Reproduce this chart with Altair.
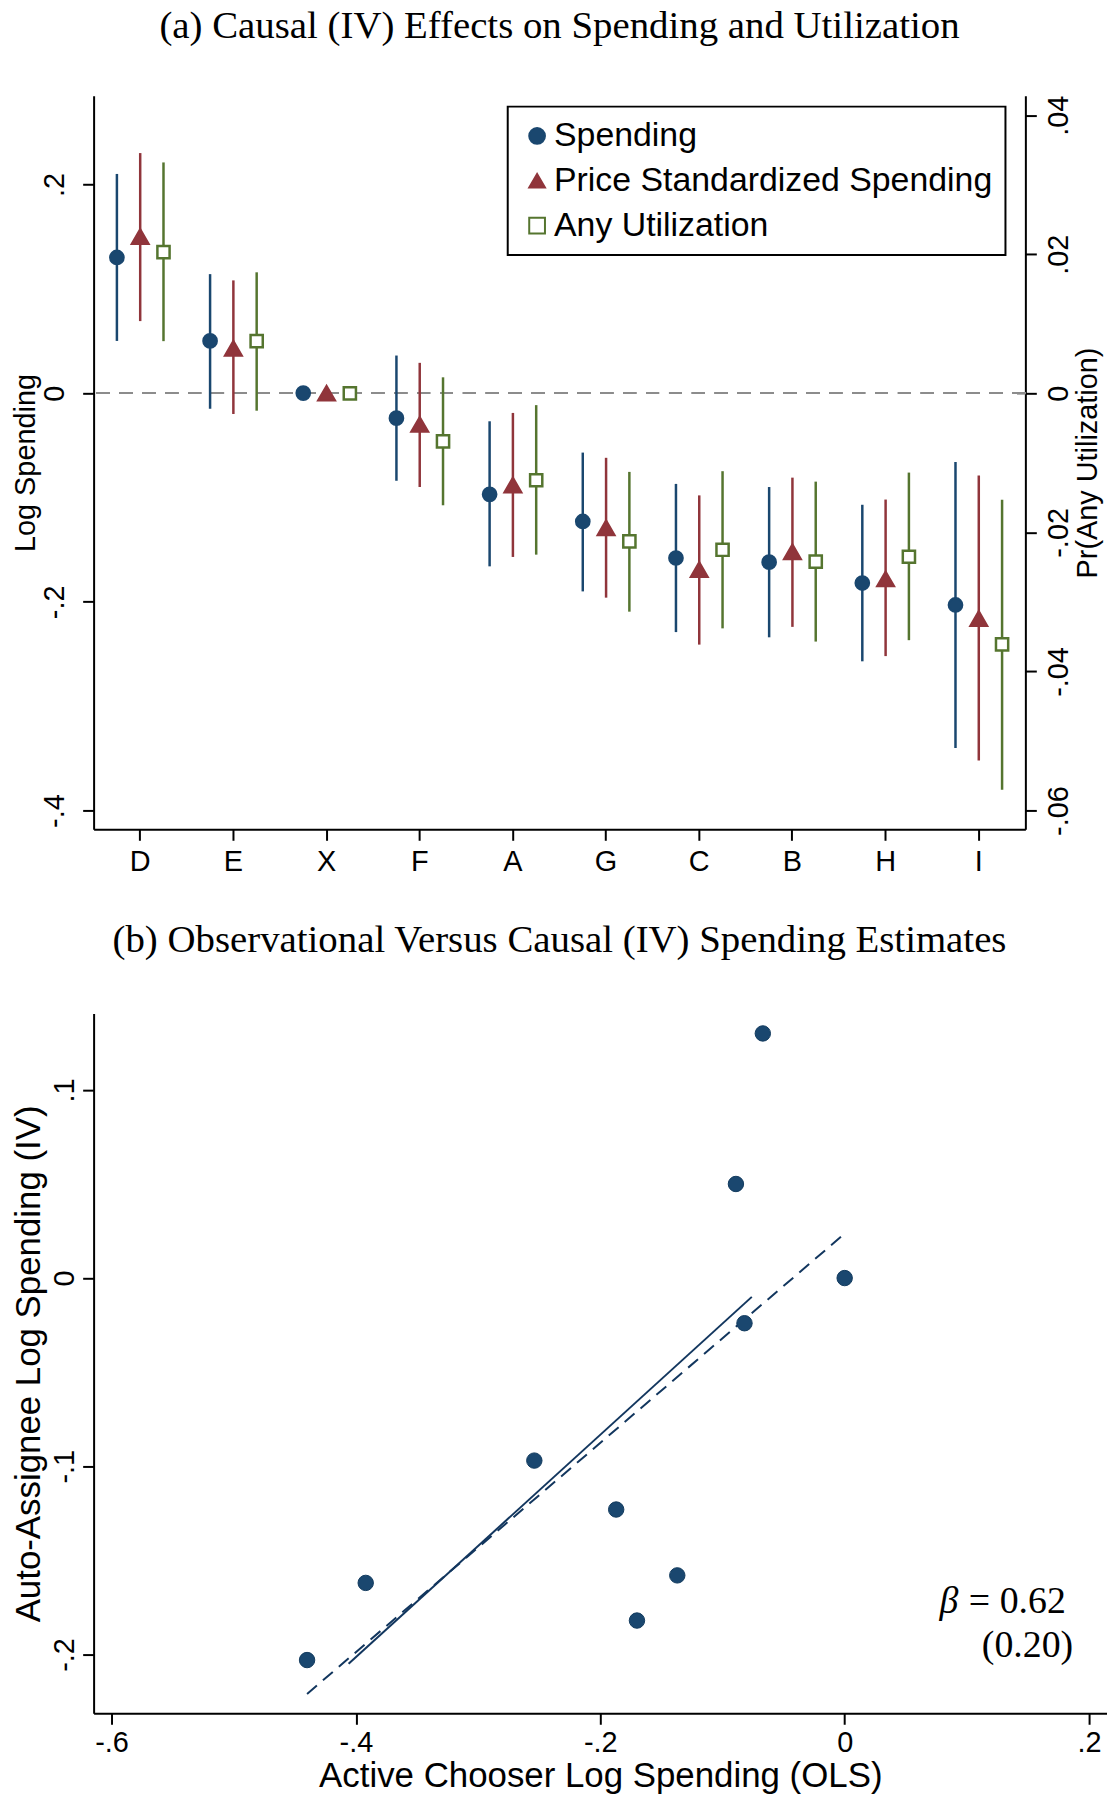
import altair as alt
import pandas as pd

# ---------------- data ----------------
cats = ["D", "E", "X", "F", "A", "G", "C", "B", "H", "I"]
series = ["Spending", "Price Standardized Spending", "Any Utilization"]

spend_est = [0.130, 0.050, 0.0, -0.024, -0.097, -0.123, -0.158, -0.162, -0.182, -0.203]
spend_lo = [0.050, -0.015, None, -0.084, -0.166, -0.190, -0.229, -0.234, -0.257, -0.340]
spend_hi = [0.210, 0.114, None, 0.036, -0.027, -0.057, -0.087, -0.090, -0.107, -0.066]

price_est = [0.150, 0.043, 0.0, -0.030, -0.088, -0.129, -0.169, -0.152, -0.178, -0.216]
price_lo = [0.069, -0.020, None, -0.090, -0.157, -0.196, -0.241, -0.224, -0.252, -0.352]
price_hi = [0.230, 0.108, None, 0.029, -0.019, -0.062, -0.098, -0.081, -0.102, -0.079]

util_est = [0.0203, 0.0075, 0.0, -0.0069, -0.0125, -0.0213, -0.0225, -0.0242, -0.0235, -0.0361]
util_lo = [0.0075, -0.0025, None, -0.0161, -0.0232, -0.0314, -0.0338, -0.0357, -0.0355, -0.0570]
util_hi = [0.0332, 0.0174, None, 0.0023, -0.0017, -0.0113, -0.0112, -0.0127, -0.0114, -0.0153]

# panel (b): observational (OLS) vs causal (IV)
ols_x = [-0.067, -0.089, 0.0, -0.082, -0.254, -0.187, -0.137, -0.392, -0.170, -0.440]
iv_y = spend_est

solid_x = [-0.406, -0.076]
solid_y = [-0.205, -0.010]
dash_x = [-0.440, -0.002]
dash_y = [-0.221, 0.0225]

note_text = ["= 0.62", "(0.20)"]
note_x = [0.181, 0.187]
note_y = [-0.172, -0.1955]
beta_text = ["\u03b2"]

left_ticks = [-0.4, -0.2, 0, 0.2]
right_ticks = [-0.06, -0.04, -0.02, 0, 0.02, 0.04]
b_yticks = [-0.2, -0.1, 0, 0.1]
b_xticks = [-0.6, -0.4, -0.2, 0, 0.2]

# ---------------- styles ----------------
NAVY = "#1a476f"
MAROON = "#90353b"
GREEN = "#55752f"
SANS = "Liberation Sans"
SERIF = "Liberation Serif"
LBL = "datum.value == 0 ? '0' : (datum.value < 0 ? '-' : '') + replace(format(abs(datum.value), '.2~f'), '0.', '.')"
COLORS = dict(zip(series, [NAVY, MAROON, GREEN]))

rows = []
for s, est, lo, hi in [(series[0], spend_est, spend_lo, spend_hi),
                       (series[1], price_est, price_lo, price_hi),
                       (series[2], util_est, util_lo, util_hi)]:
    for i, c in enumerate(cats):
        rows.append(dict(cat=c, series=s, est=est[i], lo=lo[i], hi=hi[i]))
df = pd.DataFrame(rows)

x_enc = alt.X("cat:N", sort=cats,
              scale=alt.Scale(domain=cats, paddingInner=0, paddingOuter=0),
              axis=alt.Axis(title=None, labelAngle=0, labelPadding=7))
xoff = alt.XOffset("series:N", sort=series,
                   scale=alt.Scale(domain=series, paddingInner=0, paddingOuter=0.5))

leg = alt.Legend(title=None, orient="none", legendX=416, legendY=11,
                 strokeColor="black", fillColor="white",
                 padding=12.5, rowPadding=11, labelFont=SANS, labelFontSize=34,
                 labelColor="black", symbolSize=250, symbolStrokeWidth=2,
                 symbolOpacity=1, labelOffset=0, labelLimit=0)
shape_enc = alt.Shape("series:N", scale=alt.Scale(domain=series, range=["circle", "triangle-up", "square"]), legend=leg)
fill_enc = alt.Fill("series:N", scale=alt.Scale(domain=series, range=[NAVY, MAROON, "white"]), legend=leg)
stroke_enc = alt.Stroke("series:N", scale=alt.Scale(domain=series, range=[NAVY, MAROON, GREEN]), legend=leg)

ldom = [-0.418, 0.285]
rdom = [-0.0627, 0.0428]
lscale = alt.Scale(domain=ldom, nice=False, zero=False)
rscale = alt.Scale(domain=rdom, nice=False, zero=False)

left_axis = alt.Axis(values=left_ticks, labelExpr=LBL, title="Log Spending",
                     labelAngle=270, labelAlign="center", labelBaseline="bottom",
                     labelPadding=13, titlePadding=0)
right_axis = alt.Axis(orient="right", values=right_ticks, labelExpr=LBL,
                      title="Pr(Any Utilization)", titleAngle=270, titleBaseline="top",
                      labelAngle=270, labelAlign="center", labelBaseline="top",
                      labelPadding=8, titlePadding=0)

sizes = {series[0]: 190, series[1]: 300, series[2]: 150}
widths = {series[0]: 2, series[1]: 2, series[2]: 2.5}


def rules(s, scale, axis):
    sub = df[df.series == s].dropna()
    return alt.Chart(sub).mark_rule(strokeWidth=2.5, color=COLORS[s]).encode(
        x=x_enc, xOffset=xoff,
        y=alt.Y("lo:Q", scale=scale, axis=axis), y2="hi:Q")


def points(s, scale, axis):
    return alt.Chart(df[df.series == s]).mark_point(
        filled=True, size=sizes[s], strokeWidth=widths[s], opacity=1).encode(
        x=x_enc, xOffset=xoff,
        y=alt.Y("est:Q", scale=scale, axis=axis),
        shape=shape_enc, fill=fill_enc, stroke=stroke_enc)


zero = alt.Chart(df[df.series == series[0]]).mark_rule(
    color="#8c8c8c", strokeWidth=2, strokeDash=[13, 10]).encode(
    y=alt.datum(0, scale=lscale, axis=left_axis))

left_layer = alt.layer(
    zero,
    rules(series[0], lscale, left_axis),
    rules(series[1], lscale, left_axis),
    points(series[0], lscale, left_axis),
    points(series[1], lscale, left_axis),
)
right_layer = alt.layer(
    rules(series[2], rscale, right_axis),
    points(series[2], rscale, right_axis),
)

panel_a = alt.layer(left_layer, right_layer).resolve_scale(y="independent").properties(
    width=936, height=737,
    title=alt.TitleParams(text="(a) Causal (IV) Effects on Spending and Utilization",
                          font=SERIF, fontSize=39, fontWeight="normal", color="black",
                          anchor="middle", offset=49),
)

# ---------------- panel b ----------------
bdf = pd.DataFrame({"cat": cats, "ols": ols_x, "iv": iv_y})
solid_df = pd.DataFrame({"ols": solid_x, "iv": solid_y})
dash_df = pd.DataFrame({"ols": dash_x, "iv": dash_y})
note_df = pd.DataFrame({"ols": note_x, "iv": note_y, "txt": note_text})
beta_df = pd.DataFrame({"ols": note_x[:1], "iv": note_y[:1], "txt": beta_text})

bx = alt.Scale(domain=[-0.6147, 0.2147], nice=False, zero=False)
by = alt.Scale(domain=[-0.2313, 0.1406], nice=False, zero=False)
bx_axis = alt.Axis(values=b_xticks, labelExpr=LBL, title="Active Chooser Log Spending (OLS)",
                   labelPadding=4, titlePadding=2, titleFontSize=35)
by_axis = alt.Axis(values=b_yticks, labelExpr=LBL, title="Auto-Assignee Log Spending (IV)",
                   labelAngle=270, labelAlign="center", labelBaseline="bottom",
                   labelPadding=3, titlePadding=4, titleFontSize=35)

b_pts = alt.Chart(bdf).mark_point(filled=True, shape="circle", size=240, fill=NAVY,
                                  stroke="#123a5e", strokeWidth=1, opacity=1).encode(
    x=alt.X("ols:Q", scale=bx, axis=bx_axis),
    y=alt.Y("iv:Q", scale=by, axis=by_axis))
b_solid = alt.Chart(solid_df).mark_line(color="#12365e", strokeWidth=2).encode(
    x=alt.X("ols:Q", scale=bx, axis=bx_axis), y=alt.Y("iv:Q", scale=by, axis=by_axis))
b_dash = alt.Chart(dash_df).mark_line(color="#12365e", strokeWidth=2, strokeDash=[13, 8]).encode(
    x=alt.X("ols:Q", scale=bx, axis=bx_axis), y=alt.Y("iv:Q", scale=by, axis=by_axis))
b_note = alt.Chart(note_df).mark_text(font=SERIF, fontSize=38, align="right", baseline="middle",
                                      color="black").encode(
    x=alt.X("ols:Q", scale=bx, axis=bx_axis), y=alt.Y("iv:Q", scale=by, axis=by_axis), text="txt:N")
b_beta = alt.Chart(beta_df).mark_text(font=SERIF, fontSize=38, fontStyle="italic", align="right",
                                      baseline="middle", color="black", dx=-108).encode(
    x=alt.X("ols:Q", scale=bx, axis=bx_axis), y=alt.Y("iv:Q", scale=by, axis=by_axis), text="txt:N")

panel_b = alt.layer(b_solid, b_dash, b_pts, b_note, b_beta).properties(
    width=1018, height=703,
    title=alt.TitleParams(text="(b) Observational Versus Causal (IV) Spending Estimates",
                          font=SERIF, fontSize=39, fontWeight="normal", color="black",
                          anchor="middle", frame="bounds", offset=54),
)

chart = alt.vconcat(panel_a, panel_b, spacing=45).properties(
    padding={"top": -5, "left": 3, "right": 0, "bottom": 0}
).configure_view(
    stroke=None
).configure_axis(
    grid=False, domainColor="black", domainWidth=2, tickColor="black", tickWidth=2,
    tickSize=11, labelFont=SANS, labelFontSize=29, labelColor="black",
    titleFont=SANS, titleFontSize=29, titleColor="black", titleFontWeight="normal",
).configure_legend(strokeWidth=2)

chart.save("out.html", embed_options={"renderer": "svg", "actions": False})
